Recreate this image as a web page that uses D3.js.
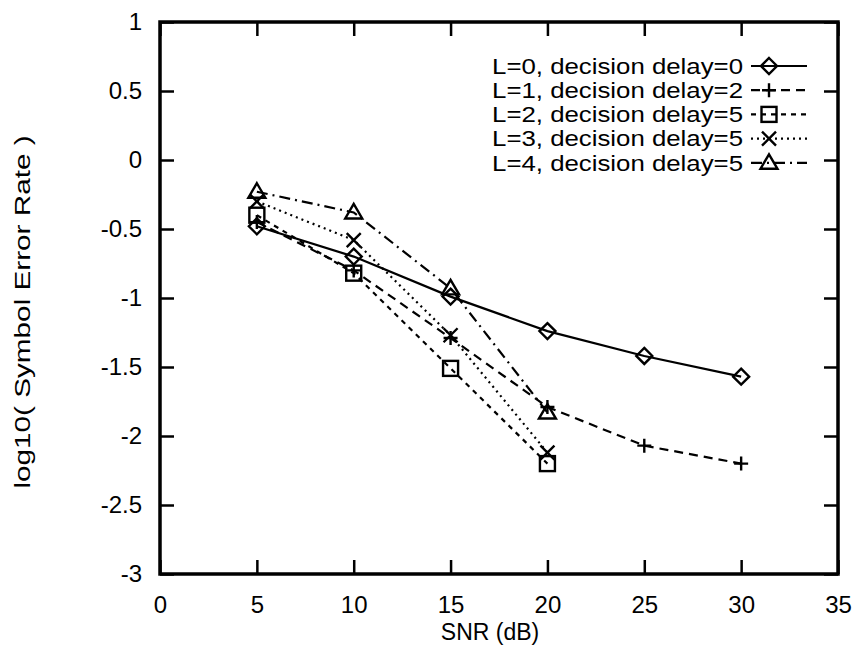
<!DOCTYPE html>
<html>
<head>
<meta charset="utf-8">
<script src="https://cdn.jsdelivr.net/npm/d3@7"></script>
<style>
  html, body { margin: 0; padding: 0; background: #fff; }
  svg text { font-family: "Liberation Sans", Arial, Helvetica, sans-serif; fill: #000; }
</style>
</head>
<body>
<svg id="chart" width="857" height="647"></svg>
<script>
// SNR values (dB) at which each equalizer configuration was simulated
const snrL0 = [5, 10, 15, 20, 25, 30];
const serL0 = [-0.48, -0.70, -0.99, -1.24, -1.42, -1.57];

const snrL1 = [5, 10, 15, 20, 25, 30];
const serL1 = [-0.45, -0.80, -1.29, -1.79, -2.07, -2.20];

const snrL2 = [5, 10, 15, 20];
const serL2 = [-0.40, -0.82, -1.51, -2.20];

const snrL3 = [5, 10, 15, 20];
const serL3 = [-0.30, -0.58, -1.27, -2.12];

const snrL4 = [5, 10, 15, 20];
const serL4 = [-0.23, -0.38, -0.93, -1.83];

const seriesLabels = [
  "L=0, decision delay=0",
  "L=1, decision delay=2",
  "L=2, decision delay=5",
  "L=3, decision delay=5",
  "L=4, decision delay=5"
];

const xTicks = [0, 5, 10, 15, 20, 25, 30, 35];
const yTicks = [-3, -2.5, -2, -1.5, -1, -0.5, 0, 0.5, 1];

const series = [
  { label: seriesLabels[0], x: snrL0, y: serL0, marker: "diamond",  dash: null },
  { label: seriesLabels[1], x: snrL1, y: serL1, marker: "plus",     dash: "9,6" },
  { label: seriesLabels[2], x: snrL2, y: serL2, marker: "square",   dash: "5,5" },
  { label: seriesLabels[3], x: snrL3, y: serL3, marker: "cross",    dash: "2,4" },
  { label: seriesLabels[4], x: snrL4, y: serL4, marker: "triangle", dash: "11,5,2,5" }
];

const svg = d3.select("#chart");
const plot = { left: 160, right: 838, top: 22, bottom: 574 };

const x = d3.scaleLinear().domain([0, 35]).range([plot.left, plot.right]);
const y = d3.scaleLinear().domain([-3, 1]).range([plot.bottom, plot.top]);

const tickLen = 14;
const fmt = d => String(d);

// Axes: ticks point inward on all four sides, labels on bottom and left only
const axBottom = svg.append("g").attr("transform", `translate(0,${plot.bottom})`)
  .call(d3.axisBottom(x).tickValues(xTicks).tickSize(-tickLen).tickPadding(22).tickFormat(fmt));
const axTop = svg.append("g").attr("transform", `translate(0,${plot.top})`)
  .call(d3.axisTop(x).tickValues(xTicks).tickSize(-tickLen).tickFormat(""));
const axLeft = svg.append("g").attr("transform", `translate(${plot.left},0)`)
  .call(d3.axisLeft(y).tickValues(yTicks).tickSize(-tickLen).tickPadding(18).tickFormat(fmt));
const axRight = svg.append("g").attr("transform", `translate(${plot.right},0)`)
  .call(d3.axisRight(y).tickValues(yTicks).tickSize(-tickLen).tickFormat(""));

[axBottom, axTop, axLeft, axRight].forEach(g => {
  g.select(".domain").remove();
  g.selectAll(".tick line").attr("stroke", "#000").attr("stroke-width", 2.5);
  g.selectAll(".tick text").attr("font-size", 24).attr("fill", "#000");
});
axBottom.selectAll(".tick text").attr("dy", "0.71em");

// Plot frame
svg.append("rect")
  .attr("x", plot.left).attr("y", plot.top)
  .attr("width", plot.right - plot.left).attr("height", plot.bottom - plot.top)
  .attr("fill", "none").attr("stroke", "#000").attr("stroke-width", 3.5);

// Axis titles
svg.append("text")
  .attr("x", 490).attr("y", 640)
  .attr("text-anchor", "middle").attr("font-size", 23)
  .text("SNR (dB)");
svg.append("text")
  .attr("transform", `translate(30,${(plot.top + plot.bottom) / 2 + 14}) rotate(-90) scale(1.35,1)`)
  .attr("text-anchor", "middle").attr("font-size", 22)
  .text("log10( Symbol Error Rate )");

// Marker shapes
function drawMarker(g, type, cx, cy) {
  const s = 8;
  const st = { fill: "none", stroke: "#000", "stroke-width": 2.4 };
  let el;
  if (type === "diamond") {
    el = g.append("path").attr("d", `M${cx},${cy - s}L${cx + s},${cy}L${cx},${cy + s}L${cx - s},${cy}Z`);
  } else if (type === "plus") {
    el = g.append("path").attr("d", `M${cx - 7},${cy}H${cx + 7}M${cx},${cy - 7}V${cy + 7}`);
  } else if (type === "square") {
    el = g.append("rect").attr("x", cx - 7.5).attr("y", cy - 7.5).attr("width", 15).attr("height", 15);
  } else if (type === "cross") {
    el = g.append("path").attr("d", `M${cx - 7},${cy - 7}L${cx + 7},${cy + 7}M${cx - 7},${cy + 7}L${cx + 7},${cy - 7}`);
  } else {
    el = g.append("path").attr("d", `M${cx},${cy - 8.5}L${cx + 8.5},${cy + 6}L${cx - 8.5},${cy + 6}Z`);
  }
  Object.entries(st).forEach(([k, v]) => el.attr(k, v));
}

const line = d3.line();
const gData = svg.append("g");
series.forEach(s => {
  const pts = s.x.map((v, i) => [x(v), y(s.y[i])]);
  gData.append("path")
    .attr("d", line(pts))
    .attr("fill", "none").attr("stroke", "#000").attr("stroke-width", 2.2)
    .attr("stroke-dasharray", s.dash);
  pts.forEach(p => drawMarker(gData, s.marker, p[0], p[1]));
});

// Legend, top right inside the frame
const legend = svg.append("g");
const legTop = 66, legStep = 24.2;
series.forEach((s, i) => {
  const ly = legTop + i * legStep;
  legend.append("text")
    .attr("transform", `translate(743,${ly}) scale(1.2,1)`)
    .attr("dy", "0.36em")
    .attr("text-anchor", "end").attr("font-size", 21.5)
    .text(s.label);
  legend.append("line")
    .attr("x1", 751).attr("x2", 807).attr("y1", ly).attr("y2", ly)
    .attr("stroke", "#000").attr("stroke-width", 2.2)
    .attr("stroke-dasharray", s.dash);
  drawMarker(legend, s.marker, 769, ly);
});
</script>
</body>
</html>
